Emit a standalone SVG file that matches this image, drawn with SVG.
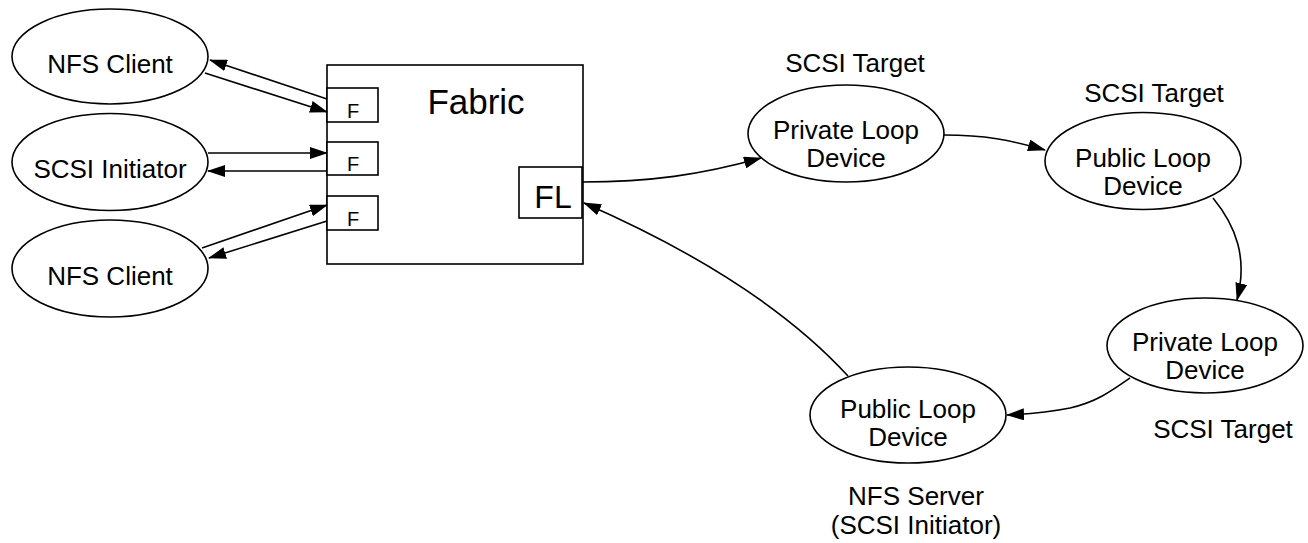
<svg xmlns="http://www.w3.org/2000/svg" width="1308" height="543" viewBox="0 0 1308 543">
  <style>
    .shape { fill: #fff; stroke: #000; stroke-width: 1.6; }
    .edge { fill: none; stroke: #000; stroke-width: 1.6; marker-end: url(#arrow); }
    text { font-family: "Liberation Sans", Arial, sans-serif; fill: #000; text-anchor: middle; }
    .lbl { font-size: 26px; }
    .port { font-size: 20px; }
  </style>
  <defs>
    <marker id="arrow" markerUnits="userSpaceOnUse" markerWidth="18" markerHeight="12" viewBox="0 0 18 12" refX="17" refY="6" orient="auto">
      <path d="M0,0 L18,6 L0,12 Z" fill="#000"/>
    </marker>
  </defs>

  <!-- client side -->
  <g id="nfs-client-1">
    <ellipse class="shape" cx="110" cy="56.5" rx="98" ry="47.5"/>
    <text class="lbl" x="110" y="73">NFS Client</text>
  </g>
  <g id="scsi-initiator">
    <ellipse class="shape" cx="110" cy="162" rx="98" ry="48.5"/>
    <text class="lbl" x="110" y="178">SCSI Initiator</text>
  </g>
  <g id="nfs-client-2">
    <ellipse class="shape" cx="110" cy="268.5" rx="98" ry="48.5"/>
    <text class="lbl" x="110" y="285">NFS Client</text>
  </g>

  <!-- switch fabric with its ports -->
  <g id="fabric">
    <rect class="shape" x="327" y="65" width="256" height="199"/>
    <text x="476" y="114" font-size="35">Fabric</text>
  </g>
  <g id="port-f1">
    <rect class="shape" x="327" y="88" width="51" height="34"/>
    <text class="port" x="353" y="118">F</text>
  </g>
  <g id="port-f2">
    <rect class="shape" x="327" y="142" width="51" height="33"/>
    <text class="port" x="353" y="171">F</text>
  </g>
  <g id="port-f3">
    <rect class="shape" x="327" y="196" width="51" height="34"/>
    <text class="port" x="353" y="226">F</text>
  </g>
  <g id="port-fl">
    <rect class="shape" x="519" y="167" width="63" height="51"/>
    <text x="553" y="208" font-size="32">FL</text>
  </g>

  <!-- arbitrated loop devices -->
  <g id="private-loop-1">
    <text class="lbl" x="855" y="72">SCSI Target</text>
    <ellipse class="shape" cx="846" cy="133.5" rx="98" ry="48.5"/>
    <text class="lbl" x="846" y="139">Private Loop</text>
    <text class="lbl" x="846" y="167">Device</text>
  </g>
  <g id="public-loop-1">
    <text class="lbl" x="1154" y="102">SCSI Target</text>
    <ellipse class="shape" cx="1143" cy="161" rx="98" ry="48.5"/>
    <text class="lbl" x="1143" y="167">Public Loop</text>
    <text class="lbl" x="1143" y="195">Device</text>
  </g>
  <g id="private-loop-2">
    <ellipse class="shape" cx="1205" cy="345.5" rx="98" ry="47.5"/>
    <text class="lbl" x="1205" y="351">Private Loop</text>
    <text class="lbl" x="1205" y="379">Device</text>
    <text class="lbl" x="1223" y="438">SCSI Target</text>
  </g>
  <g id="public-loop-2">
    <ellipse class="shape" cx="908" cy="415" rx="98" ry="48"/>
    <text class="lbl" x="908" y="418">Public Loop</text>
    <text class="lbl" x="908" y="446">Device</text>
    <text class="lbl" x="916" y="505">NFS Server</text>
    <text class="lbl" x="916" y="534">(SCSI Initiator)</text>
  </g>

  <!-- links -->
  <g id="connectors">
    <path class="edge" d="M327,99 L210,60"/>
    <path class="edge" d="M205,73 L327,112"/>
    <path class="edge" d="M208,153 L327,153"/>
    <path class="edge" d="M327,171 L208,171"/>
    <path class="edge" d="M202,248 L327,205"/>
    <path class="edge" d="M327,221 L209,258"/>
    <path class="edge" d="M582,182 C650,182 700,175 761,158"/>
    <path class="edge" d="M944,135 C985,135 1010,140 1045,150"/>
    <path class="edge" d="M1213,198 C1236,226 1248,258 1237,300"/>
    <path class="edge" d="M1130,378 C1110,392 1096,402 1070,408 C1050,412 1030,414 1007,415"/>
    <path class="edge" d="M848,376 Q760,280 584,203"/>
  </g>
</svg>
